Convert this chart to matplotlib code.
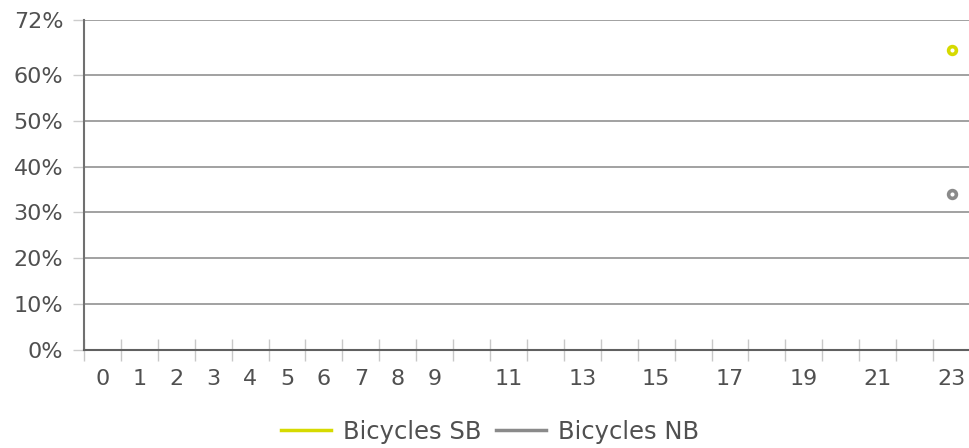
import numpy as np
import matplotlib
matplotlib.use("Agg")
import matplotlib.pyplot as plt

hours = list(range(24))
sb_values = [np.nan] * 23 + [65.5]
nb_values = [np.nan] * 23 + [34.0]
y_ticks = [0, 10, 20, 30, 40, 50, 60, 72]
x_labels = ['0', '1', '2', '3', '4', '5', '6', '7', '8', '9', '', '11', '', '13', '', '15', '', '17', '', '19', '', '21', '', '23']
series_names = ['Bicycles SB', 'Bicycles NB']
colors = ['#d6da00', '#8a8a8a']

plt.rcParams['font.family'] = ['DejaVu Sans']
fig = plt.figure(figsize=(9.7, 4.48), dpi=100)
ax = fig.add_axes([84/970, (448-350)/448, (970-84)/970, 330/448])

ax.set_xlim(-0.5, 23.5)
ax.set_ylim(0, 72)

for v in y_ticks[1:]:
    ax.axhline(v, color='#9a9a9a', lw=1.3, zorder=1)

for vals, c, name in zip([sb_values, nb_values], colors, series_names):
    ax.plot(hours, vals, color=c, lw=2.5, marker='o', markersize=5.6,
            markerfacecolor='white', markeredgecolor=c, markeredgewidth=2.6,
            label=name, zorder=3)

for s in ['top', 'right']:
    ax.spines[s].set_visible(False)
ax.spines['left'].set_color('#707070')
ax.spines['left'].set_linewidth(1.5)
ax.spines['bottom'].set_color('#606060')
ax.spines['bottom'].set_linewidth(1.5)

ax.set_yticks(y_ticks)
ax.set_yticklabels([f'{v}%' for v in y_ticks])
ax.tick_params(axis='y', length=8, width=1, color='#cccccc', labelsize=16,
               labelcolor='#505050', pad=7)

ax.set_xticks(np.arange(-0.5, 24, 1))
ax.set_xticklabels([])
ax.tick_params(axis='x', which='major', direction='inout', length=16, width=1,
               color='#c8c8c8')
ax.set_xticks(hours, minor=True)
ax.set_xticklabels(x_labels, minor=True)
ax.tick_params(axis='x', which='minor', length=0, labelsize=16,
               labelcolor='#505050', pad=14)

leg = fig.legend(loc='center', bbox_to_anchor=(490/970, 1 - 432/448), ncol=2,
                 frameon=False, fontsize=17.5, handlelength=2.06,
                 columnspacing=0.58, handletextpad=0.49,
                 borderpad=0, borderaxespad=0)
for h in leg.legend_handles:
    h.set_marker('')
    h.set_linewidth(2.5)
for t in leg.get_texts():
    t.set_color('#505050')

fig.savefig('out.png', dpi=100)
